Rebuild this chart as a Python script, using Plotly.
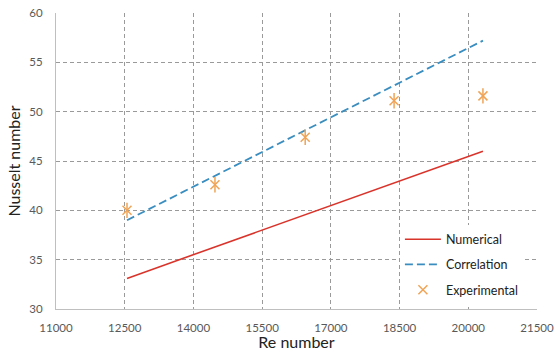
import plotly.graph_objects as go

re_exp = [12550, 14470, 16440, 18380, 20320]
nu_exp = [40.0, 42.6, 47.4, 51.1, 51.6]

re_line = [12550, 14470, 16440, 18380, 20320]
nu_numerical = [33.1, 36.3, 39.6, 42.8, 46.0]
nu_correlation = [39.0, 43.5, 48.1, 52.7, 57.2]

x_ticks = [11000, 12500, 14000, 15500, 17000, 18500, 20000, 21500]
y_ticks = [30, 35, 40, 45, 50, 55, 60]

font_family = "Lato, Open Sans, sans-serif"
orange = "#EFA456"

fig = go.Figure()
fig.add_trace(go.Scatter(x=re_line, y=nu_numerical, mode="lines", name="Numerical",
                         legendgroup="num",
                         line=dict(color="#D9342B", width=1.6)))
fig.add_trace(go.Scatter(x=re_line, y=nu_correlation, mode="lines", name="Correlation",
                         legendgroup="cor",
                         line=dict(color="#3A8DBF", width=1.8, dash="8px,4px")))
fig.add_trace(go.Scatter(x=re_exp, y=nu_exp, mode="markers", name="Experimental",
                         legendgroup="exp",
                         marker=dict(symbol="x-thin-open", size=9, color=orange,
                                     line=dict(color=orange, width=1.5))))
fig.add_trace(go.Scatter(x=re_exp, y=nu_exp, mode="markers", name="Experimental",
                         legendgroup="exp", showlegend=False,
                         marker=dict(symbol="line-ns-open", size=11, color=orange,
                                     line=dict(color=orange, width=1.5))))

fig.update_layout(
    width=554, height=351,
    margin=dict(l=56, r=17, t=13, b=42),
    paper_bgcolor="white", plot_bgcolor="white",
    font=dict(family=font_family, color="#595959", size=11.5),
    showlegend=True,
    legend=dict(x=0.715, y=0.015, xanchor="left", yanchor="bottom",
                bgcolor="white", font=dict(size=12.5, color="#222222"),
                traceorder="grouped", tracegroupgap=6, itemwidth=36),
)
fig.update_xaxes(
    range=[11000, 21500], tickvals=x_ticks, ticktext=[str(v) for v in x_ticks],
    showgrid=True, gridcolor="#9A9A9A", griddash="4px,3px", gridwidth=1,
    showline=True, linecolor="#BFBFBF", linewidth=1,
    ticks="outside", ticklen=8, tickcolor="rgba(0,0,0,0)",
    zeroline=False, automargin=False, ticklabeloverflow="allow",
    title=dict(text="Re number", font=dict(size=16, color="#222222"), standoff=2),
)
fig.update_yaxes(
    range=[30, 60], tickvals=y_ticks, ticktext=[str(v) for v in y_ticks],
    showgrid=True, gridcolor="#9A9A9A", griddash="4px,3px", gridwidth=1,
    showline=True, linecolor="#BFBFBF", linewidth=1,
    ticks="outside", ticklen=10, tickcolor="rgba(0,0,0,0)",
    zeroline=False, automargin=False, ticklabeloverflow="allow",
    title=dict(text="Nusselt number", font=dict(size=16, color="#222222"), standoff=4),
)

fig.write_html("out.html", config={"displayModeBar": False},
               post_script="document.body.style.margin='0';")
